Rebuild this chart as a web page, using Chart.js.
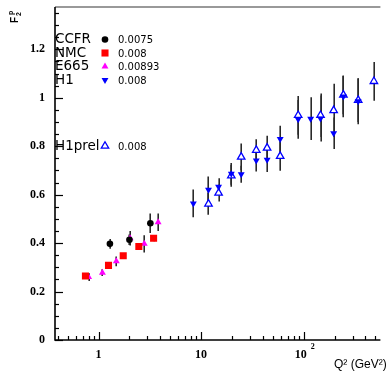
<!DOCTYPE html>
<html>
<head>
<meta charset="utf-8">
<script src="https://cdn.jsdelivr.net/npm/chart.js@4.4.1/dist/chart.umd.min.js"></script>
<style>
  body { margin: 0; background: #fff; }
  canvas { display: block; }
</style>
</head>
<body>
<canvas id="f2Chart" width="386" height="375"></canvas>
<script>
// F2 proton data, x = 0.008
const ccfrQ2 = [1.29, 2.0, 3.2];
const ccfrF2 = [0.397, 0.414, 0.482];
const ccfrErr = [0.02, 0.022, 0.04];

const nmcQ2 = [0.745, 1.25, 1.74, 2.47, 3.44];
const nmcF2 = [0.264, 0.308, 0.348, 0.386, 0.42];
const nmcErr = [0.008, 0.008, 0.01, 0.012, 0.012];

const e665Q2 = [0.80, 1.09, 1.49, 2.03, 2.79, 3.81];
const e665F2 = [0.26, 0.278, 0.325, 0.42, 0.397, 0.486];
const e665Err = [0.016, 0.014, 0.02, 0.03, 0.036, 0.036];

const h1Q2 = [8.4, 11.8, 14.8, 19.7, 24.6, 34.5, 44, 59, 88.4, 117, 146, 196, 244, 340];
const h1F2 = [0.564, 0.62, 0.633, 0.686, 0.684, 0.741, 0.744, 0.83, 0.911, 0.914, 0.915, 0.854, 1.005, 0.986];
const h1Err = [0.057, 0.055, 0.035, 0.045, 0.035, 0.045, 0.05, 0.055, 0.08, 0.088, 0.095, 0.065, 0.085, 0.095];

const h1prelQ2 = [11.8, 14.8, 19.7, 24.6, 34.5, 44, 59, 88.4, 146, 196, 244, 340, 484];
const h1prelF2 = [0.562, 0.607, 0.678, 0.756, 0.784, 0.793, 0.759, 0.928, 0.928, 0.948, 1.012, 0.99, 1.068];
const h1prelErr = [0.045, 0.035, 0.045, 0.055, 0.045, 0.05, 0.06, 0.08, 0.09, 0.11, 0.08, 0.09, 0.08];

const legendNames = ['CCFR', 'NMC', 'E665', 'H1', 'H1prel'];
const legendValues = ['0.0075', '0.008', '0.00893', '0.008', '0.008'];

const xTickValues = [0.4, 0.5, 0.6, 0.7, 0.8, 0.9, 1, 2, 3, 4, 5, 6, 7, 8, 9,
  10, 20, 30, 40, 50, 60, 70, 80, 90, 100, 200, 300, 400, 500];
const xMajorTicks = [1, 10, 100];
const yTickLabels = ['0', '0.2', '0.4', '0.6', '0.8', '1', '1.2'];

function toPoints(xs, ys, errs) {
    return xs.map((x, i) => ({ x: x, y: ys[i], err: errs[i] }));
}

// vertical error bars, behind the markers
const errorBars = {
    id: 'errorBars',
    beforeDatasetsDraw(chart) {
        const ctx = chart.ctx;
        const xs = chart.scales.x;
        const ys = chart.scales.y;
        ctx.save();
        ctx.strokeStyle = '#2a2a2a';
        ctx.lineWidth = 1.6;
        chart.data.datasets.forEach(ds => {
            ds.data.forEach(p => {
                const px = Math.round(xs.getPixelForValue(p.x)) + 0.2;
                ctx.beginPath();
                ctx.moveTo(px, ys.getPixelForValue(p.y - p.err));
                ctx.lineTo(px, ys.getPixelForValue(p.y + p.err));
                ctx.stroke();
            });
        });
        ctx.restore();
    }
};

// frame, inward ticks, labels, titles and legend
const decorations = {
    id: 'decorations',
    afterDraw(chart) {
        const ctx = chart.ctx;
        const area = chart.chartArea;
        const xs = chart.scales.x;
        const ys = chart.scales.y;
        ctx.save();

        // top frame
        ctx.strokeStyle = '#777';
        ctx.lineWidth = 1.5;
        ctx.beginPath();
        ctx.moveTo(area.left, area.top);
        ctx.lineTo(area.right, area.top);
        ctx.stroke();

        // axes
        ctx.strokeStyle = '#000';
        ctx.lineWidth = 1.6;
        ctx.beginPath();
        ctx.moveTo(area.left, area.top);
        ctx.lineTo(area.left, area.bottom);
        ctx.lineTo(area.right, area.bottom);
        ctx.stroke();

        // x ticks
        ctx.lineWidth = 1.2;
        xTickValues.forEach(v => {
            const px = Math.round(xs.getPixelForValue(v)) + 0.5;
            const len = xMajorTicks.includes(v) ? 8 : 4;
            ctx.beginPath();
            ctx.moveTo(px, area.bottom);
            ctx.lineTo(px, area.bottom - len);
            ctx.stroke();
        });

        // y ticks
        for (let k = 0; k <= 27; k++) {
            const v = k * 0.05;
            const py = Math.round(ys.getPixelForValue(v)) + 0.5;
            const len = k % 4 === 0 ? 8 : 4;
            ctx.beginPath();
            ctx.moveTo(area.left, py);
            ctx.lineTo(area.left + len, py);
            ctx.stroke();
        }

        // tick labels
        ctx.fillStyle = '#000';
        ctx.font = 'bold 12px "Liberation Serif"';
        ctx.textAlign = 'right';
        ctx.textBaseline = 'middle';
        yTickLabels.forEach((t, i) => {
            ctx.fillText(t, area.left - 10, ys.getPixelForValue(i * 0.2));
        });
        ctx.textAlign = 'center';
        ctx.fillText('1', xs.getPixelForValue(1), area.bottom + 15);
        ctx.fillText('10', xs.getPixelForValue(10), area.bottom + 15);
        ctx.fillText('10', xs.getPixelForValue(100) - 3, area.bottom + 15);
        ctx.font = 'bold 8px "Liberation Serif"';
        ctx.fillText('2', xs.getPixelForValue(100) + 9, area.bottom + 7);

        // x title
        ctx.font = '12px "Liberation Sans"';
        ctx.textAlign = 'left';
        ctx.textBaseline = 'alphabetic';
        ctx.fillText('Q\u00b2 (GeV\u00b2)', 334, 368);

        // y title, rotated
        ctx.save();
        ctx.translate(18, 23);
        ctx.rotate(-Math.PI / 2);
        ctx.font = 'bold 10px "Liberation Sans"';
        ctx.textAlign = 'left';
        ctx.fillText('F', 0, 0);
        ctx.font = 'bold 7px "Liberation Sans"';
        ctx.fillText('2', 7, 3);
        ctx.fillText('p', 8, -5);
        ctx.restore();

        // legend
        const rows = [39.5, 53, 66.5, 80, 146];
        chart.data.datasets.forEach((ds, i) => {
            const y = rows[i];
            ctx.fillStyle = '#000';
            ctx.font = '13.5px "DejaVu Sans"';
            ctx.textAlign = 'left';
            ctx.textBaseline = 'middle';
            ctx.fillText(legendNames[i], 55, y);
            ctx.font = '10px "DejaVu Sans"';
            ctx.fillText(legendValues[i], 118, y + 1);
            ctx.fillStyle = ds.backgroundColor;
            ctx.strokeStyle = ds.borderColor;
            ctx.lineWidth = ds.borderWidth;
            Chart.helpers.drawPoint(ctx, {
                pointStyle: ds.pointStyle,
                radius: ds.pointRadius,
                rotation: ds.rotation || 0,
                borderWidth: ds.borderWidth
            }, 105, y);
        });

        ctx.restore();
    }
};

new Chart(document.getElementById('f2Chart'), {
    type: 'scatter',
    data: {
        datasets: [
            {
                label: 'CCFR',
                data: toPoints(ccfrQ2, ccfrF2, ccfrErr),
                pointStyle: 'circle',
                pointRadius: 3.3,
                backgroundColor: '#000',
                borderColor: '#000',
                borderWidth: 0
            },
            {
                label: 'NMC',
                data: toPoints(nmcQ2, nmcF2, nmcErr),
                pointStyle: 'rect',
                pointRadius: 5,
                backgroundColor: '#ff0000',
                borderColor: '#ff0000',
                borderWidth: 0
            },
            {
                label: 'E665',
                data: toPoints(e665Q2, e665F2, e665Err),
                pointStyle: 'triangle',
                pointRadius: 4,
                backgroundColor: '#ff00ff',
                borderColor: '#ff00ff',
                borderWidth: 0
            },
            {
                label: 'H1',
                data: toPoints(h1Q2, h1F2, h1Err),
                pointStyle: 'triangle',
                rotation: 180,
                pointRadius: 4,
                backgroundColor: '#0000ff',
                borderColor: '#0000ff',
                borderWidth: 0
            },
            {
                label: 'H1prel',
                data: toPoints(h1prelQ2, h1prelF2, h1prelErr),
                pointStyle: 'triangle',
                pointRadius: 4.3,
                backgroundColor: '#ffffff',
                borderColor: '#0000ff',
                borderWidth: 1.3
            }
        ]
    },
    options: {
        responsive: false,
        animation: false,
        layout: { padding: { left: 55, right: 0, top: 7, bottom: 35 } },
        plugins: {
            legend: { display: false },
            tooltip: { enabled: false }
        },
        scales: {
            x: { type: 'logarithmic', min: 0.376, max: 560, display: false },
            y: { type: 'linear', min: 0, max: 1.375, display: false }
        }
    },
    plugins: [errorBars, decorations]
});
</script>
</body>
</html>
